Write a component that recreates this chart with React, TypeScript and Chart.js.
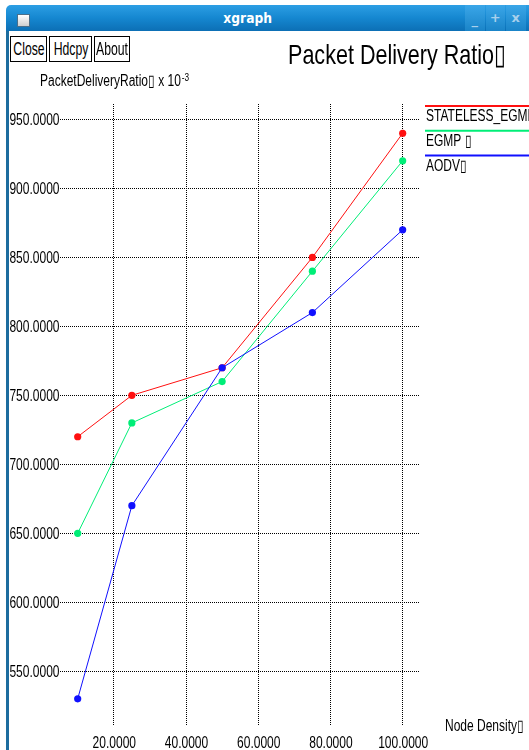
import React, { useEffect, useRef } from "react";
import { Chart, registerables } from "chart.js";

Chart.register(...registerables);

// ---- data ----
const xValues = [10, 25, 50, 75, 100];
const statelessEgmp = [720, 750, 770, 850, 940];
const egmp = [650, 730, 760, 840, 920];
const aodv = [530, 670, 770, 810, 870];
const xTicks = [20, 40, 60, 80, 100];
const yTicks = [550, 600, 650, 700, 750, 800, 850, 900, 950];
const seriesNames = ["STATELESS_EGMP", "EGMP \u25AF", "AODV\u25AF"];
const seriesColors = ["#ff1010", "#00ee77", "#1010ff"];
const chartTitle = "Packet Delivery Ratio\u25AF";
const yTitle = "PacketDeliveryRatio\u25AF x 10";
const ySup = "-3";
const xTitle = "Node Density\u25AF";
const buttons = ["Close", "Hdcpy", "About"];
const windowTitle = "xgraph";

const FAMILY = '"Liberation Sans", Arial, sans-serif';

function drawText(
  ctx: CanvasRenderingContext2D,
  text: string,
  x: number,
  y: number,
  size: number,
  sx: number,
  align: "left" | "right" | "center"
) {
  ctx.save();
  ctx.font = `${size}px ${FAMILY}`;
  ctx.textBaseline = "alphabetic";
  ctx.textAlign = "left";
  const w = ctx.measureText(text).width * sx;
  let left = x;
  if (align === "right") left = x - w;
  else if (align === "center") left = x - w / 2;
  ctx.translate(left, y);
  ctx.scale(sx, 1);
  ctx.fillStyle = "#000";
  ctx.fillText(text, 0, 0);
  ctx.restore();
  return w;
}

const xgraphPlugin = {
  id: "xgraphText",
  afterDraw(chart: any) {
    const ctx: CanvasRenderingContext2D = chart.ctx;
    const xs = chart.scales.x;
    const ys = chart.scales.y;
    const area = chart.chartArea;
    const SX = 0.75;
    // tick labels
    ys.ticks.forEach((t: any) => {
      const py = ys.getPixelForValue(t.value);
      drawText(ctx, Number(t.value).toFixed(4), area.left - 0.5, py + 5.5, 16, SX, "right");
    });
    xs.ticks.forEach((t: any) => {
      const px = xs.getPixelForValue(t.value);
      drawText(ctx, Number(t.value).toFixed(4), px + 0.5, 748, 16, SX, "center");
    });
    // titles
    drawText(ctx, chartTitle, 288, 64, 28, 0.77, "left");
    const w = drawText(ctx, yTitle, 40, 86, 16, SX, "left");
    drawText(ctx, ySup, 40 + w + 1, 81, 11, SX, "left");
    drawText(ctx, xTitle, 445, 731, 16, SX, "left");
    // legend
    chart.data.datasets.forEach((ds: any, i: number) => {
      const ly = 106 + i * 24.8;
      ctx.save();
      ctx.strokeStyle = ds.borderColor;
      ctx.lineWidth = 2;
      ctx.beginPath();
      ctx.moveTo(area.right + 5, ly);
      ctx.lineTo(chart.width, ly);
      ctx.stroke();
      ctx.restore();
      drawText(ctx, ds.label, area.right + 6, ly + 15, 16, SX, "left");
    });
  },
};

function XGraphChart() {
  const ref = useRef<HTMLCanvasElement | null>(null);
  useEffect(() => {
    if (!ref.current) return;
    const series = [statelessEgmp, egmp, aodv];
    const chart = new Chart(ref.current, {
      type: "line",
      data: {
        datasets: series.map((vals, i) => ({
          label: seriesNames[i],
          data: xValues.map((x, j) => ({ x, y: vals[j] })),
          borderColor: seriesColors[i],
          backgroundColor: seriesColors[i],
          pointBackgroundColor: seriesColors[i],
          pointBorderWidth: 0,
          pointRadius: 3.6,
          borderWidth: 1,
          fill: false,
          tension: 0,
          order: series.length - i,
        })),
      },
      options: {
        animation: false,
        responsive: false,
        devicePixelRatio: 1,
        layout: { padding: { left: 0, top: 104, right: 109, bottom: 0 } },
        plugins: {
          legend: { display: false },
          tooltip: { enabled: false },
          title: { display: false },
        },
        scales: {
          x: {
            type: "linear",
            min: 5.1,
            max: 104.8,
            afterBuildTicks: (s: any) => {
              s.ticks = xTicks.map((v) => ({ value: v }));
            },
            afterFit: (s: any) => {
              s.height = 24;
            },
            ticks: { display: false },
            grid: { color: "#000", lineWidth: 1, drawTicks: false },
            border: { display: false, dash: [1, 1] },
          },
          y: {
            type: "linear",
            min: 510.3,
            max: 961.2,
            afterBuildTicks: (s: any) => {
              s.ticks = yTicks.map((v) => ({ value: v }));
            },
            afterFit: (s: any) => {
              s.width = 60;
            },
            ticks: { display: false },
            grid: { color: "#000", lineWidth: 1, drawTicks: false },
            border: { display: false, dash: [1, 1] },
          },
        },
      },
      plugins: [xgraphPlugin],
    } as any);
    return () => chart.destroy();
  }, []);
  return (
    <canvas
      ref={ref}
      width={529}
      height={750}
      style={{ position: "absolute", left: 0, top: 0, width: 529, height: 750 }}
    />
  );
}

const buttonBoxes = [
  { left: 10, width: 37 },
  { left: 49, width: 43 },
  { left: 94, width: 36 },
];

export default function App() {
  return (
    <div
      style={{
        position: "fixed",
        left: 0,
        top: 0,
        width: 529,
        height: 750,
        background: "#fff",
        overflow: "hidden",
        fontFamily: FAMILY,
      }}
    >
      {/* title bar */}
      <div
        style={{
          position: "absolute",
          left: 6,
          top: 5,
          width: 540,
          height: 26,
          borderRadius: "5px 5px 0 0",
          background: "linear-gradient(to bottom, #2c9ee4 0%, #1587d0 50%, #0c6fb5 100%)",
        }}
      />
      <div
        style={{
          position: "absolute",
          left: 17,
          top: 14,
          width: 11,
          height: 11,
          background: "linear-gradient(to bottom, #ffffff, #cfcfcf)",
          border: "1px solid #4a6f8a",
        }}
      />
      <div
        style={{
          position: "absolute",
          left: 0,
          top: 5,
          width: 496,
          height: 26,
          lineHeight: "26px",
          textAlign: "center",
          color: "#fff",
          fontFamily: '"DejaVu Sans", sans-serif',
          fontWeight: "bold",
          fontSize: 14,
        }}
      >
        <span style={{ display: "inline-block", transform: "scaleX(0.88)" }}>{windowTitle}</span>
      </div>
      {["_", "+", "x"].map((g, i) => (
        <div
          key={g}
          style={{
            position: "absolute",
            left: 465 + i * 20.5,
            top: 5,
            width: 19.5,
            height: 26,
            background: "linear-gradient(to bottom, #3aa6e8, #1a84c8)",
            color: "#a8d0ec",
            fontFamily: '"DejaVu Sans", sans-serif',
            fontWeight: "bold",
            fontSize: 13,
            lineHeight: "26px",
            textAlign: "center",
          }}
        >
          {g === "_" ? <span style={{ position: "relative", top: 2 }}>_</span> : g}
        </div>
      ))}
      {/* left border */}
      <div
        style={{
          position: "absolute",
          left: 6,
          top: 31,
          width: 3,
          height: 719,
          background: "#1c6c9e",
        }}
      />
      <XGraphChart />
      {buttons.map((b, i) => (
        <div
          key={b}
          style={{
            position: "absolute",
            left: buttonBoxes[i].left,
            top: 36,
            width: buttonBoxes[i].width,
            height: 26,
            boxSizing: "border-box",
            border: "1px solid #000",
            background: "#fff",
            fontSize: 18,
            whiteSpace: "nowrap",
            overflow: "hidden",
          }}
        >
          <span
            style={{
              position: "absolute",
              left: "50%",
              top: 1,
              lineHeight: "22px",
              transform: "translateX(-50%) scaleX(0.68)",
            }}
          >
            {b}
          </span>
        </div>
      ))}
    </div>
  );
}
